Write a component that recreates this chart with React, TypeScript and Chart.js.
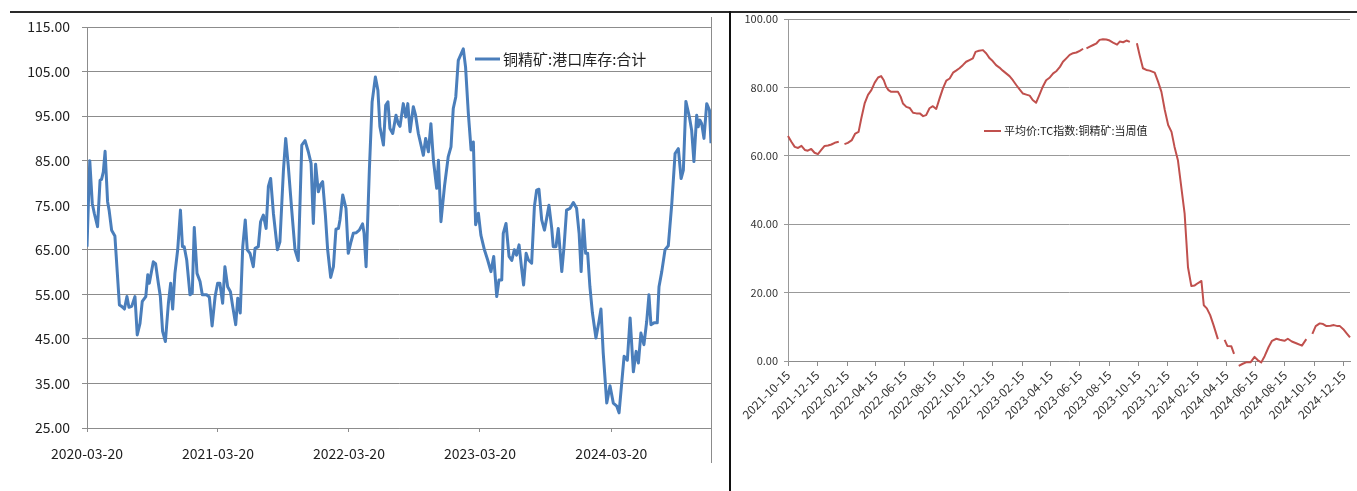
import React, { useEffect, useRef } from 'react';
import { Chart, registerables } from 'chart.js';

Chart.register(...registerables);

// ---------- Left chart: 铜精矿:港口库存:合计 (x = weeks since 2020-03-20) ----------
const leftStart = '2020-03-20';
const leftTickLabels = ['2020-03-20', '2021-03-20', '2022-03-20', '2023-03-20', '2024-03-20'];
const leftYTicks = [25, 35, 45, 55, 65, 75, 85, 95, 105, 115];
const leftSeriesName = '铜精矿:港口库存:合计';
const leftWeeks = [
  0, 1.1, 2.1, 2.9, 4.2, 5.2, 5.8, 6.5, 7.2, 8.2, 8.8, 9.8, 11.1, 12.9, 13.8, 14.9, 15.9, 16.7, 17.8, 19.1,
  20.0, 21.1, 22.0, 23.4, 24.2, 24.8, 26.4, 27.3, 28.4, 29.2, 30.1, 31.2, 32.4, 33.3, 34.1, 35.0, 36.1, 37.2, 38.0, 38.7,
  39.7, 41.0, 41.9, 42.7, 43.8, 45.0, 45.9, 47.6, 48.7, 49.8, 51.0, 52.0, 52.9, 54.0, 54.9, 56.0, 57.1, 58.0, 59.2, 60.0,
  61.0, 62.0, 63.0, 63.8, 64.9, 66.2, 66.9, 68.2, 69.1, 70.2, 71.3, 72.2, 73.1, 74.2, 75.8, 76.8, 78.2, 79.1, 80.1, 81.5,
  82.8, 84.1, 85.5, 86.8, 88.1, 89.2, 90.1, 91.0, 92.1, 93.0, 93.8, 94.9, 95.8, 97.0, 98.1, 99.1, 100.1, 100.7, 101.8, 103.1,
  104.0, 105.1, 106.0, 107.1, 108.4, 109.7, 110.3, 111.1, 112.4, 113.5, 114.8, 115.8, 116.6, 118.0, 118.9, 119.8, 120.6, 121.7, 123.0, 123.9,
  124.6, 125.9, 126.9, 127.7, 128.6, 129.9, 130.8, 131.9, 133.9, 134.8, 135.9, 136.9, 137.9, 139.2, 139.9, 140.9, 142.3, 143.8, 144.9, 145.8,
  146.8, 147.8, 149.8, 150.7, 151.8, 152.9, 153.8, 154.7, 155.8, 156.8, 158.2, 159.5, 160.8, 161.9, 163.1, 164.0, 165.1, 165.7, 166.8, 168.0,
  169.1, 170.1, 171.0, 172.0, 173.0, 173.8, 174.8, 175.7, 177.0, 178.1, 179.0, 179.9, 181.0, 182.1, 183.0, 183.9, 185.0, 185.6, 186.7, 187.6,
  189.0, 189.9, 190.9, 192.3, 193.6, 194.9, 195.9, 196.7, 197.6, 198.5, 199.3, 200.2, 201.2, 202.6, 203.8, 204.6, 205.5, 206.9, 208.2, 209.5,
  210.9, 211.8, 213.8, 215.1, 216.2, 217.5, 218.6, 219.5, 220.5, 221.7, 222.8, 223.7, 224.5, 225.7, 227.0, 227.7, 228.8, 230.1, 231.4, 232.8,
  234.1, 235.4, 236.5, 237.4, 238.4, 239.8, 240.7, 241.6, 242.7, 243.3, 244.0, 244.7, 245.6, 246.7, 247.8, 248.4,
];
const leftValues = [
  65.7, 85.0, 75.4, 73.2, 70.2, 80.6, 80.8, 82.5, 87.1, 75.8, 73.9, 69.4, 68.1, 52.6, 52.3, 51.7, 54.5, 52.1, 52.3, 54.5,
  45.9, 48.5, 53.4, 54.5, 59.4, 57.5, 62.3, 61.9, 57.5, 54.5, 46.7, 44.4, 53.0, 57.5, 51.7, 59.7, 65.0, 73.9, 65.7, 65.7,
  62.7, 54.9, 55.3, 70.0, 59.7, 57.9, 54.9, 54.9, 54.4, 47.9, 54.5, 57.5, 57.5, 53.0, 61.2, 56.7, 55.6, 52.3, 48.2, 54.1,
  50.8, 65.7, 71.7, 65.0, 64.2, 61.2, 65.3, 65.7, 71.3, 72.8, 69.8, 79.2, 81.0, 73.2, 65.0, 66.8, 82.9, 90.0, 84.0, 73.9,
  65.0, 62.6, 88.5, 89.5, 87.0, 84.4, 70.9, 84.2, 78.0, 79.7, 80.3, 72.8, 65.0, 58.8, 61.2, 69.6, 69.8, 71.7, 77.3, 74.3,
  64.2, 66.8, 68.7, 68.8, 69.4, 70.8, 68.7, 61.2, 82.9, 98.2, 103.8, 100.8, 92.6, 88.5, 97.4, 98.2, 92.2, 91.1, 95.2, 93.3,
  92.7, 97.8, 94.8, 97.8, 91.5, 97.1, 95.2, 91.1, 86.2, 90.0, 87.0, 93.3, 85.1, 78.8, 85.1, 71.3, 79.2, 85.9, 88.1, 96.7,
  99.3, 107.5, 110.1, 106.0, 95.6, 87.4, 89.2, 70.6, 73.2, 68.3, 65.0, 62.7, 60.1, 63.5, 54.5, 58.2, 58.2, 68.7, 70.9, 63.5,
  62.6, 65.0, 63.8, 66.1, 60.9, 57.1, 64.2, 62.7, 62.0, 74.7, 78.4, 78.6, 71.7, 69.4, 72.1, 75.0, 69.8, 65.7, 65.7, 69.8,
  60.1, 65.7, 73.9, 74.3, 75.6, 74.3, 68.7, 60.1, 71.7, 64.2, 64.2, 56.7, 50.8, 45.2, 48.9, 51.7, 41.8, 30.6, 34.5, 30.6,
  29.9, 28.4, 41.1, 40.2, 49.7, 37.6, 42.2, 39.6, 46.3, 43.7, 48.9, 54.9, 48.2, 48.6, 48.6, 56.7, 60.1, 65.0, 65.9, 75.4,
  86.6, 87.7, 81.0, 82.9, 98.3, 94.8, 91.8, 84.8, 95.2, 92.6, 94.1, 93.3, 90.0, 97.8, 96.3, 88.9,
];

// ---------- Right chart: 平均价:TC指数:铜精矿:当周值 (x = weeks since 2021-10-15) ----------
const rightStart = '2021-10-15';
const rightTickLabels = [
  '2021-10-15', '2021-12-15', '2022-02-15', '2022-04-15', '2022-06-15', '2022-08-15', '2022-10-15',
  '2022-12-15', '2023-02-15', '2023-04-15', '2023-06-15', '2023-08-15', '2023-10-15', '2023-12-15',
  '2024-02-15', '2024-04-15', '2024-06-15', '2024-08-15', '2024-10-15', '2024-12-15',
];
const rightYTicks = [0, 20, 40, 60, 80, 100];
const rightSeriesName = '平均价:TC指数:铜精矿:当周值';
const rightWeeks = [
  0, 1.0, 2.0, 3.0, 4.0, 5.0, 5.9, 6.9, 7.9, 8.9, 9.9, 10.9, 11.9, 12.9, 13.9, 15.1, 16.0, 16.8, 17.8, 19.0,
  20.0, 21.0, 21.8, 22.8, 23.8, 24.8, 25.8, 26.8, 27.7, 28.5, 29.2, 29.9, 30.7, 31.7, 32.7, 33.5, 34.2, 35.2, 36.2, 37.2,
  38.2, 39.2, 40.2, 41.1, 42.1, 43.1, 44.1, 45.1, 46.1, 47.1, 48.1, 49.1, 50.0, 51.0, 52.0, 53.0, 54.0, 55.0, 55.8, 56.8,
  58.0, 59.0, 60.0, 60.9, 61.9, 62.9, 63.9, 64.9, 65.9, 66.9, 67.9, 68.9, 69.9, 70.9, 71.9, 72.8, 73.8, 74.8, 75.8, 76.8,
  77.9, 78.9, 79.9, 80.9, 81.8, 82.8, 83.8, 84.8, 85.8, 86.8, 87.8, 88.3, 88.8, 89.8, 90.8, 91.8, 92.7, 93.7, 94.7, 95.7,
  96.7, 97.9, 98.7, 99.7, 100.7, 101.7, 102.8, 103.8, 104.6, 105.6, 106.6, 107.6, 109.1, 110.1, 111.1, 112.1, 113.1, 114.1, 115.0, 116.0,
  117.0, 118.0, 118.5, 119.0, 120.0, 121.0, 122.0, 123.0, 123.7, 124.6, 125.6, 126.6, 127.9, 128.9, 129.9, 130.7, 131.9, 132.7, 133.4, 134.1,
  135.3, 136.3, 137.6, 138.8, 139.8, 140.8, 141.8, 143.0, 144.0, 145.3, 146.3, 147.7, 148.7, 149.9, 151.2, 152.9, 154.2, 155.1, 156.0, 157.0,
  158.2, 159.2, 160.2, 161.4, 162.4, 163.5, 164.2, 165.2, 166.2, 167.2,
];
const rightValues = [
  65.8, 64.1, 62.6, 62.3, 62.9, 61.7, 61.5, 62.0, 60.9, 60.5, 61.7, 62.9, 63.0, 63.3, 63.8, 64.1, null, 63.4, 63.8, 64.6,
  66.5, 67.0, 70.9, 75.3, 77.8, 79.2, 81.4, 82.9, 83.3, 82.1, 80.2, 79.2, 78.7, 78.7, 78.7, 77.3, 75.3, 74.3, 74.0, 72.6,
  72.4, 72.4, 71.6, 71.9, 73.9, 74.5, 73.7, 76.8, 79.7, 82.0, 82.6, 84.3, 84.9, 85.6, 86.5, 87.5, 88.0, 88.5, 90.4, 90.7,
  90.9, 89.9, 88.5, 87.7, 86.5, 85.8, 84.9, 84.1, 83.3, 82.1, 80.7, 79.4, 78.2, 77.9, 77.6, 76.3, 75.5, 77.8, 80.2, 82.1,
  82.9, 84.1, 84.8, 86.0, 87.5, 88.5, 89.5, 90.0, 90.2, 90.7, 91.3, null, 91.4, 91.9, 92.4, 92.9, 93.9, 94.1, 94.0, 93.7,
  93.1, 92.5, 93.4, 93.2, 93.7, 93.3, null, 92.9, 89.5, 85.6, 85.1, 84.9, 84.3, 81.7, 78.7, 73.4, 69.0, 67.0, 62.6, 58.7,
  50.9, 43.1, 35.3, 27.4, 21.9, 22.1, 22.8, 23.4, 16.3, 15.4, 13.4, 10.5, 6.4, null, 6.2, 4.4, 4.3, 2.1, null, -1.4,
  -0.8, -0.4, -0.4, 1.2, 0.2, -0.4, 1.4, 4.1, 5.9, 6.5, 6.2, 5.9, 6.5, 5.7, 5.2, 4.5, 6.4, null, 7.9, 10.2,
  11.0, 10.8, 10.2, 10.3, 10.5, 10.2, 10.2, 9.3, 8.1, 6.9,
];

const WEEK_MS = 7 * 86400000;
const weeksSince = (start: string, label: string) => (Date.parse(label) - Date.parse(start)) / WEEK_MS;

const CJK = "'Noto Sans CJK SC', 'Noto Sans', sans-serif";

function inlineLegend(x: number, y: number, len: number, font: string, color: string) {
  return {
    id: 'inlineLegend',
    afterDraw(chart: any) {
      const ds = chart.data.datasets[0];
      const ctx = chart.ctx;
      ctx.save();
      ctx.strokeStyle = ds.borderColor;
      ctx.lineWidth = ds.borderWidth;
      ctx.beginPath();
      ctx.moveTo(x, y);
      ctx.lineTo(x + len, y);
      ctx.stroke();
      ctx.font = font;
      ctx.fillStyle = color;
      ctx.textBaseline = 'middle';
      ctx.textAlign = 'left';
      ctx.fillText(ds.label, x + len + 3, y);
      ctx.restore();
    },
  };
}

function makeLeftConfig(): any {
  const tickWeeks = leftTickLabels.map((l) => weeksSince(leftStart, l));
  return {
    type: 'line',
    data: {
      datasets: [
        {
          label: leftSeriesName,
          data: leftWeeks.map((w, i) => ({ x: w, y: leftValues[i] })),
          borderColor: '#4a7ebb',
          borderWidth: 3,
          borderJoinStyle: 'round',
          pointRadius: 0,
          tension: 0,
          fill: false,
        },
      ],
    },
    options: {
      responsive: false,
      animation: false,
      events: [],
      layout: { padding: { left: 0, right: 17, top: 27, bottom: 0 } },
      plugins: { legend: { display: false }, tooltip: { enabled: false } },
      scales: {
        x: {
          type: 'linear',
          min: 0,
          max: 248.4,
          afterBuildTicks: (axis: any) => {
            axis.ticks = tickWeeks.map((v) => ({ value: v }));
          },
          afterFit: (axis: any) => {
            axis.height = 63;
          },
          grid: { drawOnChartArea: false, drawTicks: true, tickLength: 4, color: '#8c8c8c' },
          border: { display: true, color: '#8c8c8c', width: 1 },
          ticks: {
            autoSkip: false,
            maxRotation: 0,
            minRotation: 0,
            padding: 13,
            color: '#1e1e1e',
            font: { family: CJK, size: 14 },
            callback: (_v: any, i: number) => leftTickLabels[i] ?? '',
          },
        },
        y: {
          type: 'linear',
          min: 25,
          max: 115,
          afterBuildTicks: (axis: any) => {
            axis.ticks = leftYTicks.map((v) => ({ value: v }));
          },
          afterFit: (axis: any) => {
            axis.width = 87;
          },
          grid: { color: '#8c8c8c', lineWidth: 1, tickLength: 5 },
          border: { display: true, color: '#8c8c8c', width: 1 },
          ticks: {
            padding: 12,
            color: '#1e1e1e',
            font: { family: CJK, size: 14 },
            callback: (v: any) => Number(v).toFixed(2),
          },
        },
      },
    },
    plugins: [inlineLegend(475, 59, 25, `15px ${CJK}`, '#222')],
  };
}

function makeRightConfig(): any {
  const tickWeeks = rightTickLabels.map((l) => weeksSince(rightStart, l));
  return {
    type: 'line',
    data: {
      datasets: [
        {
          label: rightSeriesName,
          data: rightWeeks.map((w, i) => ({ x: w, y: rightValues[i] })),
          borderColor: '#c0504d',
          borderWidth: 2,
          borderJoinStyle: 'round',
          pointRadius: 0,
          tension: 0,
          spanGaps: false,
          fill: false,
          clip: false,
        },
      ],
    },
    options: {
      responsive: false,
      animation: false,
      events: [],
      layout: { padding: { left: 0, right: 7, top: 19, bottom: 0 } },
      plugins: { legend: { display: false }, tooltip: { enabled: false } },
      scales: {
        x: {
          type: 'linear',
          min: 0,
          max: 167.2,
          afterBuildTicks: (axis: any) => {
            axis.ticks = tickWeeks.map((v) => ({ value: v }));
          },
          afterFit: (axis: any) => {
            axis.height = 64;
          },
          grid: { drawOnChartArea: false, drawTicks: true, tickLength: 5, color: '#8c8c8c' },
          border: { display: true, color: '#8c8c8c', width: 1 },
          ticks: {
            autoSkip: false,
            maxRotation: 45,
            minRotation: 45,
            padding: 2,
            color: '#333',
            font: { family: CJK, size: 12 },
            callback: (_v: any, i: number) => rightTickLabels[i] ?? '',
          },
        },
        y: {
          type: 'linear',
          min: 0,
          max: 100,
          afterBuildTicks: (axis: any) => {
            axis.ticks = rightYTicks.map((v) => ({ value: v }));
          },
          afterFit: (axis: any) => {
            axis.width = 56;
          },
          grid: { color: '#999', lineWidth: 1, tickLength: 4 },
          border: { display: true, color: '#999', width: 1 },
          ticks: {
            padding: 6,
            color: '#333',
            font: { family: CJK, size: 11 },
            callback: (v: any) => Number(v).toFixed(2),
          },
        },
      },
    },
    plugins: [inlineLegend(252, 131, 17, `11px ${CJK}`, '#222')],
  };
}

function ChartCanvas(props: { make: () => any; left: number; top: number; width: number; height: number }) {
  const ref = useRef<HTMLCanvasElement | null>(null);
  useEffect(() => {
    if (!ref.current) return;
    const chart = new Chart(ref.current, props.make());
    return () => chart.destroy();
  }, []);
  return (
    <canvas
      ref={ref}
      width={props.width}
      height={props.height}
      style={{
        position: 'absolute',
        left: props.left,
        top: props.top,
        width: props.width,
        height: props.height,
        display: 'block',
      }}
    />
  );
}

export default function App() {
  return (
    <div
      style={{
        position: 'fixed',
        left: 0,
        top: 0,
        width: 1357,
        height: 491,
        background: '#fff',
        overflow: 'hidden',
      }}
    >
      <ChartCanvas make={makeLeftConfig} left={0} top={0} width={728} height={491} />
      <ChartCanvas make={makeRightConfig} left={732} top={0} width={625} height={425} />
      {/* frame lines of the composite */}
      <div style={{ position: 'absolute', left: 10, top: 11, width: 1347, height: 2, background: '#2a2a2a' }} />
      <div style={{ position: 'absolute', left: 729, top: 11, width: 2, height: 480, background: '#111' }} />
      <div style={{ position: 'absolute', left: 711, top: 17, width: 1, height: 446, background: '#8c8c8c' }} />
    </div>
  );
}
